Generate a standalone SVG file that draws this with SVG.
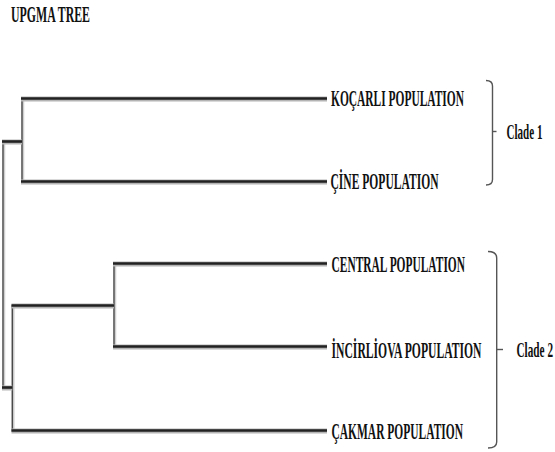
<svg xmlns="http://www.w3.org/2000/svg" width="555" height="452" viewBox="0 0 555 452">
<style>
.lbl{font-family:"Liberation Serif","Times New Roman",serif;font-weight:bold;font-size:23px;fill:#111}
.cl{font-family:"Liberation Serif","Times New Roman",serif;font-weight:bold;font-size:21px;fill:#111}
.hs{stroke:#b4b4b4;stroke-width:5;fill:none;stroke-linecap:butt}
.hc{stroke:#222;stroke-width:2.6;fill:none;stroke-linecap:butt}
.v{stroke:#4a4a4a;stroke-width:1.5;fill:none}
.vs{stroke:#cfcfcf;stroke-width:1.5;fill:none}
.br{stroke:#555;stroke-width:1.4;fill:none}
</style>
<rect width="555" height="452" fill="#fff"/>
<text class="lbl" x="11" y="22" textLength="79" lengthAdjust="spacingAndGlyphs">UPGMA TREE</text>
<g id="connectors">
  <g class="vs">
    <line x1="4.5" y1="142" x2="4.5" y2="388"/>
    <line x1="23.5" y1="99" x2="23.5" y2="182"/>
    <line x1="13.8" y1="306" x2="13.8" y2="431"/>
    <line x1="115.5" y1="264" x2="115.5" y2="347"/>
  </g>
  <g class="v">
    <line x1="3" y1="141" x2="3" y2="388"/>
    <line x1="22" y1="98" x2="22" y2="182.5"/>
    <line x1="12.3" y1="305" x2="12.3" y2="431.5"/>
    <line x1="114" y1="263" x2="114" y2="348"/>
  </g>
  <g class="hs">
    <line x1="21" y1="99" x2="327" y2="99"/>
    <line x1="21" y1="182" x2="327" y2="182"/>
    <line x1="2" y1="142" x2="22" y2="142"/>
    <line x1="2" y1="388" x2="12.3" y2="388"/>
    <line x1="11.5" y1="306" x2="114" y2="306"/>
    <line x1="113" y1="264" x2="327" y2="264"/>
    <line x1="113" y1="347" x2="327" y2="347"/>
    <line x1="11.5" y1="431" x2="327" y2="431"/>
  </g>
  <g class="hc">
    <line x1="21" y1="98.5" x2="327" y2="98.5"/>
    <line x1="21" y1="181.5" x2="327" y2="181.5"/>
    <line x1="2" y1="141.5" x2="22" y2="141.5"/>
    <line x1="2" y1="387.5" x2="12.3" y2="387.5"/>
    <line x1="11.5" y1="305.5" x2="114" y2="305.5"/>
    <line x1="113" y1="263.5" x2="327" y2="263.5"/>
    <line x1="113" y1="346.5" x2="327" y2="346.5"/>
    <line x1="11.5" y1="430.5" x2="327" y2="430.5"/>
  </g>
</g>
<g id="kocarli"><text class="lbl" x="331" y="106" textLength="133" lengthAdjust="spacingAndGlyphs">KOÇARLI POPULATION</text></g>
<g id="cine"><text class="lbl" x="330.5" y="189" textLength="108" lengthAdjust="spacingAndGlyphs">ÇİNE POPULATION</text></g>
<g id="central"><text class="lbl" x="331.5" y="271.5" textLength="133.5" lengthAdjust="spacingAndGlyphs">CENTRAL POPULATION</text></g>
<g id="incirliova"><text class="lbl" x="331.5" y="358" textLength="150" lengthAdjust="spacingAndGlyphs">İNCİRLİOVA POPULATION</text></g>
<g id="cakmar"><text class="lbl" x="331.5" y="438.5" textLength="131.5" lengthAdjust="spacingAndGlyphs">ÇAKMAR POPULATION</text></g>
<g id="clade1">
  <path class="br" d="M486,80.5 Q492.5,80.5 492.5,86 L492.5,179.5 Q492.5,185 486,185"/>
  <line class="br" x1="492.5" y1="131.5" x2="496.5" y2="131.5"/>
  <text class="cl" x="506.5" y="139" textLength="36" lengthAdjust="spacingAndGlyphs">Clade 1</text>
</g>
<g id="clade2">
  <path class="br" d="M488,251.5 Q496.7,251.5 496.7,258 L496.7,442 Q496.7,448 488,448"/>
  <line class="br" x1="496.7" y1="349.5" x2="503" y2="349.5"/>
  <text class="cl" x="516.5" y="356.5" textLength="36.5" lengthAdjust="spacingAndGlyphs">Clade 2</text>
</g>
</svg>
